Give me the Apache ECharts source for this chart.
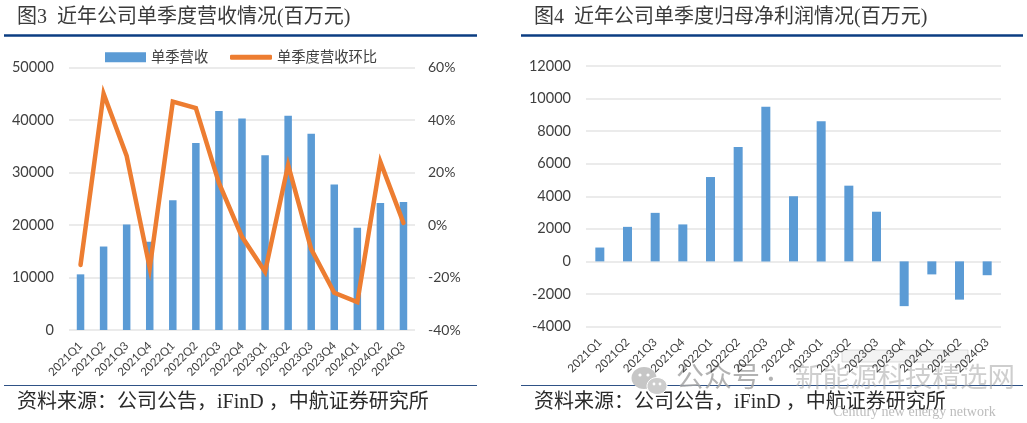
<!DOCTYPE html>
<html><head><meta charset="utf-8">
<style>html,body{margin:0;padding:0;background:#fff}#c{width:1027px;height:423px}</style>
<script src="https://cdn.jsdelivr.net/npm/echarts@6/dist/echarts.min.js"></script>
</head><body><div id="c"></div>
<script>
const categories = ['2021Q1','2021Q2','2021Q3','2021Q4','2022Q1','2022Q2','2022Q3','2022Q4','2023Q1','2023Q2','2023Q3','2023Q4','2024Q1','2024Q2','2024Q3'];
const revenue = [10600,15900,20100,16800,24700,35600,41700,40300,33300,40800,37400,27700,19500,24200,24400];
const revenueQoQ = [-15.2,50,26.3,-16.4,47,44.5,16,-4.5,-17.8,22.9,-9.2,-25.8,-29.4,24,0.8];
const netProfit = [850,2120,2980,2270,5180,7020,9500,4000,8600,4650,3050,-2750,-800,-2350,-850];
const titleLeft = '图3  近年公司单季度营收情况(百万元)';
const titleRight = '图4  近年公司单季度归母净利润情况(百万元)';
const sourceText = '资料来源\uFF1A公司公告\uFF0CiFinD \uFF0C中航证券研究所';
const markLead = '公众号 ·';
const markName = '新能源科技精选网';
const markSub = 'Century new energy network';

const serif = '"Liberation Serif","Noto Sans CJK SC",serif';
const sans = 'Lato,"Noto Sans CJK SC",sans-serif';
const tickColor = '#404040';
const gridColor = '#e4e4e4';
const plain = function(v){ return String(v); };
const xAxisBase = {
  type:'category', data:categories,
  axisLine:{show:false,onZero:false}, axisTick:{show:false},
  axisLabel:{rotate:45,interval:0,fontSize:11.5,color:tickColor,fontFamily:sans,margin:14}
};
const yBase = {
  type:'value',
  axisLine:{show:false}, axisTick:{show:false},
  axisLabel:{fontSize:14.5,color:tickColor,fontFamily:sans,margin:15,formatter:plain},
  splitLine:{show:true,lineStyle:{color:gridColor,width:1.5}}
};
function txt(x,y,t,size,color,family){
  return {type:'text',left:x,top:y,silent:true,style:{text:t,fontSize:size,fill:color,fontFamily:family||serif}};
}
function rule(x1,x2,y,w,color){
  return {type:'line',silent:true,shape:{x1:x1,y1:y,x2:x2,y2:y},style:{stroke:color,lineWidth:w}};
}
const legendText = {fontSize:14.3,color:tickColor,fontFamily:sans};
const chart = echarts.init(document.getElementById('c'),null,{renderer:'canvas'});
chart.setOption({
  animation:false,
  backgroundColor:'#fff',
  textStyle:{fontFamily:sans},
  legend:[
    {data:[{name:'单季营收',icon:'rect'}],left:100,top:45,itemWidth:41,itemHeight:10,textStyle:legendText},
    {data:[{name:'单季度营收环比',icon:'roundRect',itemStyle:{color:'#ed7d31'}}],left:225,top:45,itemWidth:42,itemHeight:5,textStyle:legendText}
  ],
  grid:[
    {left:69,width:346,top:67.5,height:262.5},
    {left:586,width:415,top:66,height:260.5}
  ],
  xAxis:[
    Object.assign({gridIndex:0},xAxisBase),
    Object.assign({gridIndex:1},xAxisBase)
  ],
  yAxis:[
    Object.assign({},yBase,{gridIndex:0,min:0,max:50000,interval:10000}),
    Object.assign({},yBase,{gridIndex:0,position:'right',min:-40,max:60,interval:20,
      splitLine:{show:false},
      axisLabel:Object.assign({},yBase.axisLabel,{formatter:'{value}%',fontSize:14,margin:13})}),
    Object.assign({},yBase,{gridIndex:1,min:-4000,max:12000,interval:2000})
  ],
  series:[
    {name:'单季营收',type:'bar',xAxisIndex:0,yAxisIndex:0,data:revenue,barWidth:7.5,itemStyle:{color:'#5b9bd5'}},
    {name:'单季度营收环比',type:'line',xAxisIndex:0,yAxisIndex:1,data:revenueQoQ,symbol:'none',
      lineStyle:{color:'#ed7d31',width:4.5,cap:'round',join:'miter'},itemStyle:{color:'#ed7d31'}},
    {name:'单季度归母净利润',type:'bar',xAxisIndex:1,yAxisIndex:2,data:netProfit,barWidth:9,itemStyle:{color:'#5b9bd5'}}
  ],
  graphic:[
    txt(17,8,titleLeft,20,'#3a3a3a'),
    txt(534,8,titleRight,20,'#3a3a3a'),
    rule(4,477,35.5,2.5,'#0b3d82'),
    rule(521,1023,35.5,2.5,'#0b3d82'),
    rule(4,477,385.5,1,'#2f5286'),
    rule(521,1023,385.5,1,'#2f5286'),
    txt(17,393,sourceText,20,'#2a2a2a'),
    txt(534,393,sourceText,20,'#2a2a2a'),
    {type:'rect',silent:true,shape:{x:842,y:350,width:126,height:12},style:{fill:'rgba(190,190,190,0.18)',stroke:'rgba(190,190,190,0.5)',lineWidth:1}},
    {type:'ellipse',silent:true,shape:{cx:644,cy:378,rx:12.5,ry:11},style:{fill:'#c6c6c6'}},
    {type:'ellipse',silent:true,shape:{cx:657,cy:386,rx:10,ry:8.5},style:{fill:'#cdcdcd',stroke:'#fff',lineWidth:1}},
    {type:'circle',silent:true,shape:{cx:640,cy:375,r:1.6},style:{fill:'#fff'}},
    {type:'circle',silent:true,shape:{cx:648,cy:375,r:1.6},style:{fill:'#fff'}},
    {type:'circle',silent:true,shape:{cx:654,cy:384,r:1.4},style:{fill:'#fff'}},
    {type:'circle',silent:true,shape:{cx:660,cy:384,r:1.4},style:{fill:'#fff'}},
    txt(676,364,markLead,28,'rgba(165,165,165,0.85)',sans),
    txt(795,364,markName,27.5,'rgba(165,165,165,0.55)',sans),
    txt(833,405,markSub,14,'rgba(165,165,165,0.75)',serif)
  ]
});
</script></body></html>
